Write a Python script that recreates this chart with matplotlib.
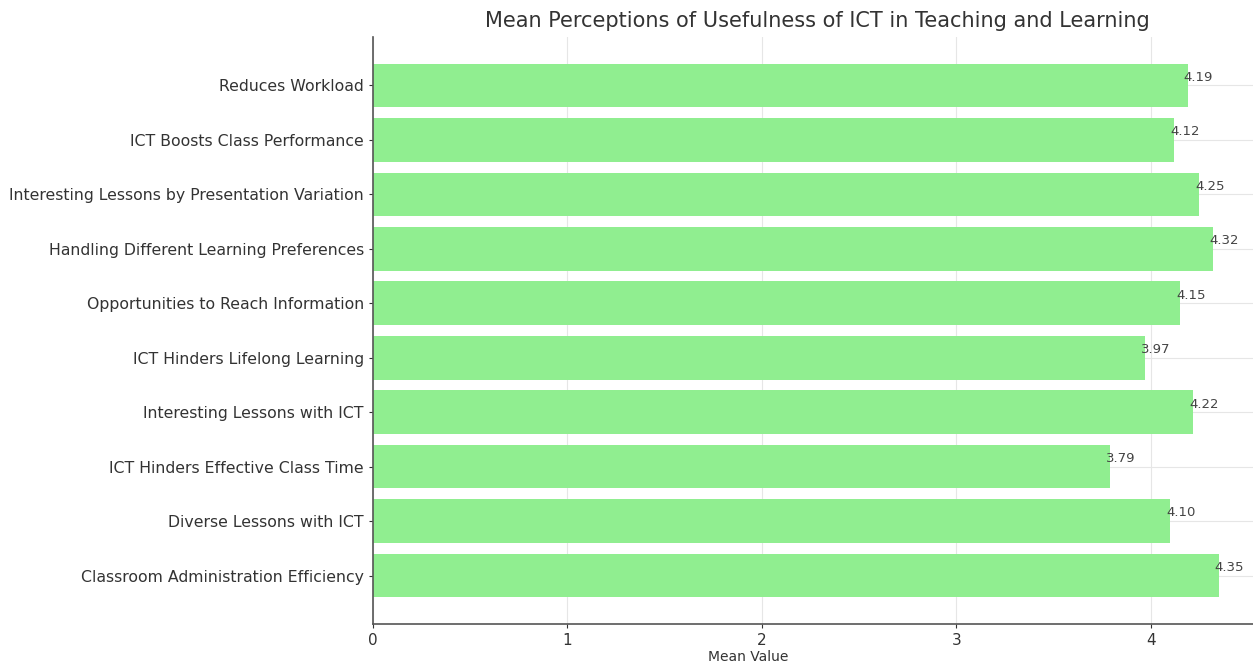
import matplotlib
matplotlib.use("Agg")
import matplotlib.pyplot as plt

categories = [
    "Classroom Administration Efficiency",
    "Diverse Lessons with ICT",
    "ICT Hinders Effective Class Time",
    "Interesting Lessons with ICT",
    "ICT Hinders Lifelong Learning",
    "Opportunities to Reach Information",
    "Handling Different Learning Preferences",
    "Interesting Lessons by Presentation Variation",
    "ICT Boosts Class Performance",
    "Reduces Workload",
]
values = [4.35, 4.10, 3.79, 4.22, 3.97, 4.15, 4.32, 4.25, 4.12, 4.19]

W, H = 1253, 667
fig = plt.figure(figsize=(W / 100, H / 100), dpi=100)
left, right, top, bottom = 373, 1261, 37, 624
ax = fig.add_axes([left / W, (H - bottom) / H, (right - left) / W, (bottom - top) / H])

ax.set_axisbelow(True)
ax.grid(True, color="#e6e6e6", linewidth=0.8)
ax.barh(categories, values, color="#90EE90", height=0.8)
for i, v in enumerate(values):
    ax.text(v - 0.02, i + 0.15, f"{v:.2f}", va="center", ha="left", fontsize=9.5, color="#444444")

ax.set_xlim(0, max(values) * 1.05)
ax.set_title("Mean Perceptions of Usefulness of ICT in Teaching and Learning",
             fontsize=15, color="#333333", pad=7)
ax.set_xlabel("Mean Value", fontsize=10, color="#333333")
ax.xaxis.set_label_coords(0.423, -0.045)
for s in ["top", "right"]:
    ax.spines[s].set_visible(False)
for s in ["left", "bottom"]:
    ax.spines[s].set_color("#555555")
    ax.spines[s].set_linewidth(1.2)
ax.tick_params(axis="both", labelsize=11.3, colors="#333333", length=3)
ax.tick_params(axis="x", labelsize=11)

fig.savefig("out.png", dpi=100)
